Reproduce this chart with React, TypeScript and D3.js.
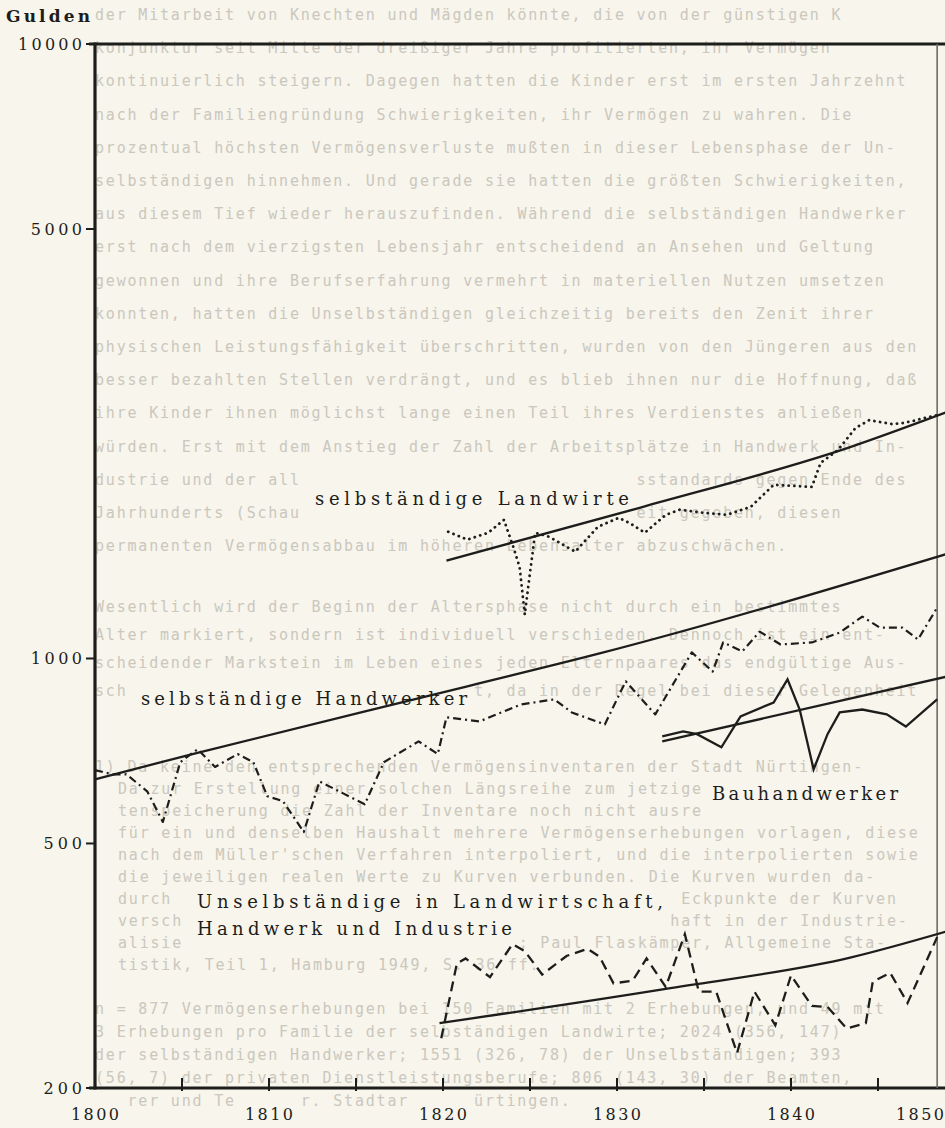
import React from "react";
import * as d3 from "d3";

const WIDTH = 945;
const HEIGHT = 1128;

// ---------- axes ----------
const yTickValues = [200, 500, 1000, 5000, 10000];
const xLabelYears = [1800, 1810, 1820, 1830, 1840, 1850];
const xTickYears = [1805, 1810, 1815, 1820, 1825, 1830, 1835, 1840, 1845];
const frameEndYear = 1848.4;

// ---------- series (Gulden, log scale) ----------
const handwerkerYears = [
  1800.0, 1801.0, 1801.8, 1803.0, 1803.9, 1804.9, 1805.9, 1806.9, 1808.2, 1809.1,
  1809.9, 1810.8, 1812.0, 1812.9, 1815.5, 1816.6, 1818.6, 1819.7, 1820.2, 1822.1,
  1824.5, 1826.4, 1827.4, 1829.3, 1830.5, 1832.2, 1834.3, 1835.5, 1836.1, 1837.2,
  1838.2, 1839.4, 1841.2, 1842.8, 1844.1, 1845.1, 1846.4, 1847.3, 1848.4,
];
const handwerkerValues = [
  658, 648, 648, 608, 542, 678, 712, 666, 699, 678,
  597, 586, 522, 631, 579, 678, 733, 699, 802, 790,
  842, 858, 817, 781, 918, 811, 1023, 952, 1062, 1027,
  1106, 1054, 1062, 1102, 1170, 1123, 1123, 1074, 1210,
];

const landwirteYears = [
  1820.3, 1821.4, 1822.6, 1823.5, 1824.0, 1824.4, 1824.7, 1825.0, 1825.3, 1826.1,
  1827.6, 1828.9, 1830.1, 1830.7, 1831.6, 1832.8, 1833.6, 1835.0, 1836.3, 1837.7,
  1839.0, 1841.2, 1841.7, 1842.7, 1843.7, 1844.5, 1845.8, 1846.4, 1847.0, 1847.6,
  1848.4,
];
const landwirteValues = [
  1608, 1561, 1602, 1681, 1531, 1410, 1179, 1379, 1602, 1578,
  1492, 1638, 1694, 1663, 1602, 1713, 1746, 1726, 1713, 1766,
  1917, 1902, 2081, 2184, 2371, 2443, 2407, 2416, 2434, 2461,
  2489,
];

const bauYears = [
  1832.6, 1833.8, 1834.6, 1836.0, 1837.1, 1839.0, 1839.8, 1840.5, 1841.3, 1842.1,
  1842.8, 1844.1, 1845.5, 1846.6, 1848.4,
];
const bauValues = [
  747, 761, 753, 717, 805, 848, 925, 826, 660, 753,
  817, 826, 811, 775, 858,
];

const unselbYears = [
  1819.9, 1820.8, 1821.3, 1822.7, 1824.0, 1824.7, 1825.7, 1827.1, 1828.3, 1829.0,
  1829.8, 1830.9, 1831.7, 1832.8, 1833.9, 1834.7, 1835.7, 1836.9, 1837.9, 1839.1,
  1840.0, 1841.2, 1842.1, 1843.2, 1844.3, 1844.7, 1845.7, 1846.7, 1848.4,
];
const unselbValues = [
  241, 319, 325, 303, 343, 334, 306, 328, 337, 327,
  296, 299, 325, 292, 356, 287, 287, 228, 287, 253,
  305, 272, 271, 250, 255, 298, 308, 275, 352,
];

// trend lines
const landwirteTrendYears = [1820.2, 1831.3, 1843.4, 1849.0];
const landwirteTrendValues = [1443, 1759, 2208, 2520];
const handwerkerTrendYears = [1800.0, 1805.6, 1821.4, 1829.0, 1849.0];
const handwerkerTrendValues = [636, 699, 901, 1019, 1481];
const bauTrendYears = [1832.6, 1849.0];
const bauTrendValues = [733, 935];
const unselbTrendYears = [1819.8, 1832.8, 1843.4, 1849.0];
const unselbTrendValues = [255, 290, 326, 360];

// ---------- text showing through the page ----------
const bleedTop = [
  "der Mitarbeit von Knechten und Mägden könnte, die von der günstigen K",
  "konjunktur seit Mitte der dreißiger Jahre profitierten, ihr Vermögen",
  "kontinuierlich steigern. Dagegen hatten die Kinder erst im ersten Jahrzehnt",
  "nach der Familiengründung Schwierigkeiten, ihr Vermögen zu wahren. Die",
  "prozentual höchsten Vermögensverluste mußten in dieser Lebensphase der Un-",
  "selbständigen hinnehmen. Und gerade sie hatten die größten Schwierigkeiten,",
  "aus diesem Tief wieder herauszufinden. Während die selbständigen Handwerker",
  "erst nach dem vierzigsten Lebensjahr entscheidend an Ansehen und Geltung",
  "gewonnen und ihre Berufserfahrung vermehrt in materiellen Nutzen umsetzen",
  "konnten, hatten die Unselbständigen gleichzeitig bereits den Zenit ihrer",
  "physischen Leistungsfähigkeit überschritten, wurden von den Jüngeren aus den",
  "besser bezahlten Stellen verdrängt, und es blieb ihnen nur die Hoffnung, daß",
  "ihre Kinder ihnen möglichst lange einen Teil ihres Verdienstes anließen",
  "würden. Erst mit dem Anstieg der Zahl der Arbeitsplätze in Handwerk und In-",
  "dustrie und der allgemeinen Verbesserung des Lebensstandards gegen Ende des",
  "Jahrhunderts (Schaubild 8b) war ihnen die Möglichkeit gegeben, diesen",
  "permanenten Vermögensabbau im höheren Lebensalter abzuschwächen.",
];
const bleedMiddle = [
  "Wesentlich wird der Beginn der Altersphase nicht durch ein bestimmtes",
  "Alter markiert, sondern ist individuell verschieden. Dennoch ist ein ent-",
  "scheidender Markstein im Leben eines jeden Elternpaares das endgültige Aus-",
  "scheiden der Kinder aus dem Haushalt, da in der Regel bei dieser Gelegenheit",
];
const bleedNoteFirst = "1) Da keine den entsprechenden Vermögensinventaren der Stadt Nürtingen-";
const bleedNoteRest = [
  "Da zur Erstellung einer solchen Längsreihe zum jetzigen Stand der Da-",
  "tenspeicherung die Zahl der Inventare noch nicht ausreicht, wurden, falls",
  "für ein und denselben Haushalt mehrere Vermögenserhebungen vorlagen, diese",
  "nach dem Müller'schen Verfahren interpoliert, und die interpolierten sowie",
  "die jeweiligen realen Werte zu Kurven verbunden. Die Kurven wurden da-",
  "durch zwangsläufig geglättet. Dabei können sich die Eckpunkte der Kurven",
  "verschieben. Vgl. Peter Borscheid, Textilarbeiterschaft in der Industrie-",
  "alisierung, Stuttgart 1978, S. 106 ff; Paul Flaskämper, Allgemeine Sta-",
  "tistik, Teil 1, Hamburg 1949, S. 36 ff.",
];
const bleedCounts = [
  "n = 877 Vermögenserhebungen bei 150 Familien mit 2 Erhebungen, und 49 mit",
  "3 Erhebungen pro Familie der selbständigen Landwirte; 2024 (356, 147)",
  "der selbständigen Handwerker; 1551 (326, 78) der Unselbständigen; 393",
  "(56, 7) der privaten Dienstleistungsberufe; 806 (143, 30) der Beamten,",
  "Lehrer und Teilhaber. Stadtarchiv Nürtingen.",
];

const INK = "#1d1d1b";
const PAPER = "#f7f5ec";
const BLEED = "#cbc7bd";
const LABEL_FONT = "'DejaVu Serif', 'Liberation Serif', serif";
const BLEED_FONT = "'DejaVu Sans Mono', 'Liberation Mono', monospace";
const BLEED_SIZE = 15;
const BLEED_LS = 1.8;
const BLEED_CW = BLEED_SIZE * 0.602 + BLEED_LS;

type P = [number, number];
type Box = { x1: number; x2: number; y1: number; y2: number };
const zip = (a: number[], b: number[]): P[] => a.map((v, i) => [v, b[i]] as P);

export default function App() {
  const x = d3.scaleLinear().domain([1800, 1850]).range([95, 965]);
  const y = d3.scaleLog().domain([200, 10000]).range([1088, 44]);

  const line = d3
    .line<P>()
    .x((d) => x(d[0]))
    .y((d) => y(d[1]));
  const smooth = d3
    .line<P>()
    .x((d) => x(d[0]))
    .y((d) => y(d[1]))
    .curve(d3.curveMonotoneX);

  const x0 = x(1800);
  const yTop = y(10000);
  const yBot = y(200);
  const xFrame = x(frameEndYear);

  // chart labels: text, left x, baseline, length, size, weight
  const LABEL_SIZE = 18;
  const chartLabels: { t: string; lx: number; ly: number; len: number; size: number; bold?: boolean }[] = [
    { t: "Gulden", lx: 6, ly: 22, len: 84, size: 17, bold: true },
    { t: "selbständige Landwirte", lx: 315, ly: 505, len: 314, size: LABEL_SIZE },
    { t: "selbständige Handwerker", lx: 141, ly: 705, len: 326, size: LABEL_SIZE },
    { t: "Bauhandwerker", lx: 712, ly: 800, len: 186, size: LABEL_SIZE },
    { t: "Unselbständige in Landwirtschaft,", lx: 197, ly: 908, len: 466, size: LABEL_SIZE },
    { t: "Handwerk und Industrie", lx: 197, ly: 935, len: 315, size: LABEL_SIZE },
  ];

  const xLabelAnchor = (yr: number) => {
    const cx = x(yr);
    return cx + 24 > WIDTH - 1 ? WIDTH - 1 - 48 : cx - 24;
  };

  // boxes of all real chart texts, to keep the faint page text out of them
  const boxes: Box[] = [
    ...chartLabels.map((l) => ({
      x1: l.lx - 4,
      x2: l.lx + l.len + 4,
      y1: l.ly - l.size * 0.95,
      y2: l.ly + l.size * 0.28,
    })),
    ...xLabelYears.map((yr) => ({
      x1: xLabelAnchor(yr) - 4,
      x2: xLabelAnchor(yr) + 52,
      y1: 1104,
      y2: 1126,
    })),
  ];

  const bleedLine = (txt: string, bx: number, by: number, key: string) => {
    const ly1 = by - BLEED_SIZE * 0.93;
    const ly2 = by + BLEED_SIZE * 0.24;
    const chars = Array.from(txt);
    const blocked = chars.map((_, i) => {
      const c1 = bx + i * BLEED_CW;
      const c2 = c1 + BLEED_CW;
      return boxes.some((b) => b.y1 < ly2 && b.y2 > ly1 && b.x1 < c2 && b.x2 > c1);
    });
    const runs: { s: number; str: string }[] = [];
    let cur: { s: number; str: string } | null = null;
    chars.forEach((ch, i) => {
      if (blocked[i]) {
        if (cur) runs.push(cur);
        cur = null;
      } else {
        if (!cur) cur = { s: i, str: "" };
        cur.str += ch;
      }
    });
    if (cur) runs.push(cur);
    return runs
      .filter((r) => r.str.trim().length > 0)
      .map((r, j) => {
        const lead = r.str.length - r.str.trimStart().length;
        return (
          <text key={key + "_" + j} x={bx + (r.s + lead) * BLEED_CW} y={by}>
            {r.str.trim()}
          </text>
        );
      });
  };

  return (
    <svg
      width={WIDTH}
      height={HEIGHT}
      viewBox={`0 0 ${WIDTH} ${HEIGHT}`}
      style={{ position: "absolute", left: 0, top: 0, display: "block" }}
    >
      <rect x={0} y={0} width={WIDTH} height={HEIGHT} fill={PAPER} />

      {/* text of the page showing through the transparent chart sheet */}
      <g
        style={{
          fontFamily: BLEED_FONT,
          fontSize: BLEED_SIZE,
          letterSpacing: BLEED_LS,
          fill: BLEED,
        }}
      >
        {bleedTop.map((t, i) => bleedLine(t, 95, 20 + i * 33.2, "t" + i))}
        {bleedMiddle.map((t, i) => bleedLine(t, 95, 612 + i * 28, "m" + i))}
        {bleedLine(bleedNoteFirst, 95, 772, "nf")}
        {bleedNoteRest.map((t, i) => bleedLine(t, 118, 794 + i * 22, "n" + i))}
        {bleedCounts.map((t, i) => bleedLine(t, 95, 1014 + i * 23, "c" + i))}
      </g>

      {/* frame */}
      <line x1={x0 - 6} x2={WIDTH} y1={yTop} y2={yTop} stroke={INK} strokeWidth={3} />
      <line x1={x0 - 6} x2={WIDTH} y1={yBot} y2={yBot} stroke={INK} strokeWidth={3} />
      <line x1={x0} x2={x0} y1={yTop - 1.5} y2={yBot + 1.5} stroke={INK} strokeWidth={3.2} />
      <line x1={xFrame} x2={xFrame} y1={yTop} y2={yBot} stroke="#6b6b66" strokeWidth={1.6} />

      {/* y ticks */}
      {yTickValues.map((v) => (
        <g key={"yt" + v}>
          <line x1={x0 - 9} x2={x0} y1={y(v)} y2={y(v)} stroke={INK} strokeWidth={2} />
          <text
            x={x0 - 13}
            y={y(v) + 6}
            textAnchor="end"
            fontFamily={LABEL_FONT}
            fontSize={16}
            fill={INK}
            textLength={String(v).length * 12.8}
            lengthAdjust="spacing"
          >
            {v}
          </text>
        </g>
      ))}

      {/* x ticks */}
      {xTickYears.map((yr) => (
        <line
          key={"xt" + yr}
          x1={x(yr)}
          x2={x(yr)}
          y1={yBot - 10}
          y2={yBot + 3}
          stroke={INK}
          strokeWidth={2}
        />
      ))}
      {xLabelYears.map((yr) => (
        <text
          key={"xl" + yr}
          x={xLabelAnchor(yr)}
          y={1120}
          fontFamily={LABEL_FONT}
          fontSize={16}
          fill={INK}
          textLength={48}
          lengthAdjust="spacing"
        >
          {yr}
        </text>
      ))}

      {/* trend lines */}
      {[
        zip(landwirteTrendYears, landwirteTrendValues),
        zip(handwerkerTrendYears, handwerkerTrendValues),
        zip(bauTrendYears, bauTrendValues),
        zip(unselbTrendYears, unselbTrendValues),
      ].map((pts, i) => (
        <path key={"tr" + i} d={smooth(pts) || ""} fill="none" stroke={INK} strokeWidth={2.3} />
      ))}

      {/* series */}
      <path
        d={line(zip(landwirteYears, landwirteValues)) || ""}
        fill="none"
        stroke={INK}
        strokeWidth={2.8}
        strokeDasharray="0.1 5.6"
        strokeLinecap="round"
        strokeLinejoin="round"
      />
      <path
        d={line(zip(handwerkerYears, handwerkerValues)) || ""}
        fill="none"
        stroke={INK}
        strokeWidth={2.2}
        strokeDasharray="8 4 2 4"
        strokeLinejoin="round"
      />
      <path
        d={line(zip(bauYears, bauValues)) || ""}
        fill="none"
        stroke={INK}
        strokeWidth={2.3}
        strokeLinejoin="miter"
      />
      <path
        d={line(zip(unselbYears, unselbValues)) || ""}
        fill="none"
        stroke={INK}
        strokeWidth={2.3}
        strokeDasharray="10 6"
        strokeLinejoin="miter"
      />

      {/* labels */}
      {chartLabels.map((l) => (
        <text
          key={l.t}
          x={l.lx}
          y={l.ly}
          fontFamily={LABEL_FONT}
          fontSize={l.size}
          fontWeight={l.bold ? 700 : 400}
          fill={INK}
          textLength={l.len}
          lengthAdjust="spacing"
        >
          {l.t}
        </text>
      ))}
    </svg>
  );
}
